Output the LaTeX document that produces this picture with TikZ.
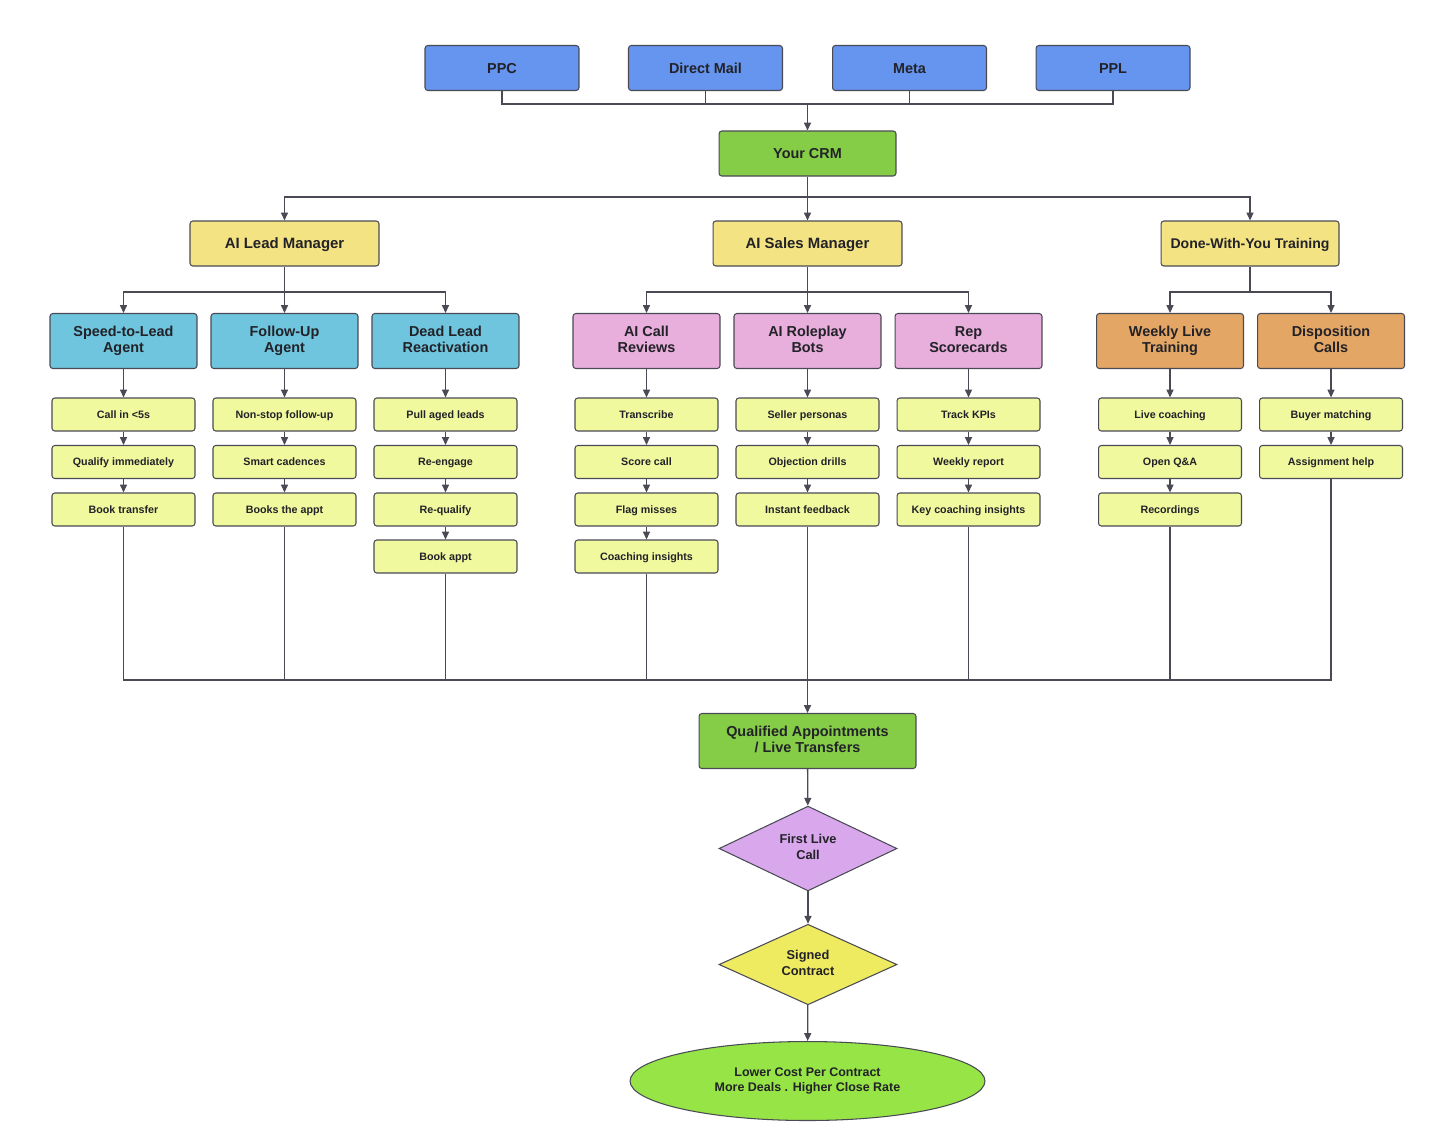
\documentclass[tikz,border=0pt]{standalone}
\usepackage{fontspec}
\setmainfont{Liberation Sans}
\usepackage{tikz}
\usetikzlibrary{
  arrows.meta,
  shapes.geometric,
  positioning
}
\definecolor{srcblue}{HTML}{6595EE}
\definecolor{crmgreen}{HTML}{85CD47}
\definecolor{mgryellow}{HTML}{F4E382}
\definecolor{agentcyan}{HTML}{6EC5DD}
\definecolor{salespink}{HTML}{E8AEDC}
\definecolor{trainorange}{HTML}{E4A665}
\definecolor{tasklight}{HTML}{F1F99E}
\definecolor{calllilac}{HTML}{D9A8EC}
\definecolor{signyellow}{HTML}{EEEB60}
\definecolor{goalgreen}{HTML}{96E446}
\definecolor{linegray}{HTML}{4A4A55}
\definecolor{inkdark}{HTML}{222228}
\newcommand{\capstrut}{\rule[-0.25em]{0pt}{1.216em}}
\tikzset{
  box/.style={
    draw=linegray, rectangle, rounded corners=1.6pt, line width=0.6pt,
    align=center, text=inkdark, inner sep=0pt,
    execute at begin node=\capstrut, execute at end node=\capstrut,
    font=\bfseries\fontsize{8.2}{9.2}\selectfont
  },
  source box/.style={
    box, fill=srcblue, minimum width=3.08cm, minimum height=0.9cm
  },
  crm box/.style={
    box, fill=crmgreen, minimum width=3.54cm, minimum height=0.9cm
  },
  manager box/.style={
    box, fill=mgryellow, minimum width=3.78cm, minimum height=0.9cm,
    font=\bfseries\fontsize{8.5}{9}\selectfont
  },
  agent box/.style={
    box, minimum width=2.94cm, minimum height=1.1cm
  },
  task box/.style={
    box, fill=tasklight, minimum width=2.86cm, minimum height=0.66cm,
    font=\bfseries\fontsize{6.1}{7}\selectfont
  },
  link/.style={
    draw=linegray, line width=0.75pt
  },
  arrow link/.style={
    link, -{Triangle[length=4.5pt,width=4pt]}
  },
}
\begin{document}
\begin{tikzpicture}[x=0.02cm, y=-0.02cm]
  \useasboundingbox (0,0) rectangle (1449,1134);

  % Lead sources
  \node[source box] (ppc) at (502,68) {PPC};
  \node[source box] (mail) at (705.5,68) {Direct Mail};
  \node[source box] (meta) at (909.5,68) {Meta};
  \node[source box] (ppl) at (1113,68) {PPL};

  % CRM
  \node[crm box] (crm) at (807.5,153.5) {Your CRM};

  % Managers
  \node[manager box] (lead) at (284.5,243.5) {AI Lead Manager};
  \node[manager box] (sales) at (807.5,243.5) {AI Sales Manager};
  \node[manager box, minimum width=3.56cm, font=\bfseries\fontsize{8}{9}\selectfont]
    (train) at (1250,243.5) {Done-With-You Training};

  % Agents
  \node[agent box, fill=agentcyan] (speed) at (123.5,341) {Speed-to-Lead\\Agent};
  \node[agent box, fill=agentcyan] (follow) at (284.5,341) {Follow-Up\\Agent};
  \node[agent box, fill=agentcyan] (dead) at (445.5,341) {Dead Lead\\Reactivation};
  \node[agent box, fill=salespink] (review) at (646.5,341) {AI Call\\Reviews};
  \node[agent box, fill=salespink] (roleplay) at (807.5,341) {AI Roleplay\\Bots};
  \node[agent box, fill=salespink] (score) at (968.5,341) {Rep\\Scorecards};
  \node[agent box, fill=trainorange] (weekly) at (1170,341) {Weekly Live\\Training};
  \node[agent box, fill=trainorange] (dispo) at (1331,341) {Disposition\\Calls};

  % Tasks
  \node[task box] (speed1) at (123.5,414.5) {Call in <5s};
  \node[task box] (speed2) at (123.5,462) {Qualify immediately};
  \node[task box] (speed3) at (123.5,509.5) {Book transfer};

  \node[task box] (follow1) at (284.5,414.5) {Non-stop follow-up};
  \node[task box] (follow2) at (284.5,462) {Smart cadences};
  \node[task box] (follow3) at (284.5,509.5) {Books the appt};

  \node[task box] (dead1) at (445.5,414.5) {Pull aged leads};
  \node[task box] (dead2) at (445.5,462) {Re-engage};
  \node[task box] (dead3) at (445.5,509.5) {Re-qualify};
  \node[task box] (dead4) at (445.5,556.5) {Book appt};

  \node[task box] (review1) at (646.5,414.5) {Transcribe};
  \node[task box] (review2) at (646.5,462) {Score call};
  \node[task box] (review3) at (646.5,509.5) {Flag misses};
  \node[task box] (review4) at (646.5,556.5) {Coaching insights};

  \node[task box] (roleplay1) at (807.5,414.5) {Seller personas};
  \node[task box] (roleplay2) at (807.5,462) {Objection drills};
  \node[task box] (roleplay3) at (807.5,509.5) {Instant feedback};

  \node[task box] (score1) at (968.5,414.5) {Track KPIs};
  \node[task box] (score2) at (968.5,462) {Weekly report};
  \node[task box] (score3) at (968.5,509.5) {Key coaching insights};

  \node[task box] (weekly1) at (1170,414.5) {Live coaching};
  \node[task box] (weekly2) at (1170,462) {Open Q\&A};
  \node[task box] (weekly3) at (1170,509.5) {Recordings};

  \node[task box] (dispo1) at (1331,414.5) {Buyer matching};
  \node[task box] (dispo2) at (1331,462) {Assignment help};

  % Outcome
  \node[box, fill=crmgreen, minimum width=4.34cm, minimum height=1.1cm]
    (qual) at (807.5,741) {Qualified Appointments\\/ Live Transfers};
  \node[box, diamond, fill=calllilac, rounded corners=0pt,
        minimum width=3.56cm, minimum height=1.56cm,
        font=\bfseries\fontsize{7.3}{8.7}\selectfont]
    (firstcall) at (808,848.5) {First Live\\Call};
  \node[box, diamond, fill=signyellow, rounded corners=0pt,
        minimum width=3.56cm, minimum height=1.56cm,
        font=\bfseries\fontsize{7.3}{8.7}\selectfont]
    (signed) at (808,964.5) {Signed\\Contract};
  \node[box, ellipse, fill=goalgreen, rounded corners=0pt,
        minimum width=7.1cm, minimum height=1.58cm,
        font=\bfseries\fontsize{7.1}{8.6}\selectfont]
    (goal) at (807.5,1081) {Lower Cost Per Contract\\More Deals . Higher Close Rate};

  % Bus points
  \coordinate (srcbus) at (807.5,104);
  \coordinate (mgrbus) at (807.5,197);
  \coordinate (leadbus) at (284.5,292);
  \coordinate (salesbus) at (807.5,292);
  \coordinate (trainbus) at (1250,292);
  \coordinate (outbus) at (807.5,680);

  % Sources into CRM
  \draw[link] (ppc.south) |- (srcbus);
  \draw[link] (mail.south) |- (srcbus);
  \draw[link] (meta.south) |- (srcbus);
  \draw[link] (ppl.south) |- (srcbus);
  \draw[arrow link] (srcbus) -- (crm.north);

  % CRM to managers
  \draw[link] (crm.south) -- (mgrbus);
  \draw[arrow link] (mgrbus) -| (lead.north);
  \draw[arrow link] (mgrbus) -- (sales.north);
  \draw[arrow link] (mgrbus) -| (train.north);

  % Managers to agents
  \draw[link] (lead.south) -- (leadbus);
  \draw[arrow link] (leadbus) -| (speed.north);
  \draw[arrow link] (leadbus) -- (follow.north);
  \draw[arrow link] (leadbus) -| (dead.north);
  \draw[link] (sales.south) -- (salesbus);
  \draw[arrow link] (salesbus) -| (review.north);
  \draw[arrow link] (salesbus) -- (roleplay.north);
  \draw[arrow link] (salesbus) -| (score.north);
  \draw[link] (train.south) -- (trainbus);
  \draw[arrow link] (trainbus) -| (weekly.north);
  \draw[arrow link] (trainbus) -| (dispo.north);

  % Task chains
  \draw[arrow link] (speed) -- (speed1);
  \draw[arrow link] (speed1) -- (speed2);
  \draw[arrow link] (speed2) -- (speed3);
  \draw[arrow link] (follow) -- (follow1);
  \draw[arrow link] (follow1) -- (follow2);
  \draw[arrow link] (follow2) -- (follow3);
  \draw[arrow link] (dead) -- (dead1);
  \draw[arrow link] (dead1) -- (dead2);
  \draw[arrow link] (dead2) -- (dead3);
  \draw[arrow link] (dead3) -- (dead4);
  \draw[arrow link] (review) -- (review1);
  \draw[arrow link] (review1) -- (review2);
  \draw[arrow link] (review2) -- (review3);
  \draw[arrow link] (review3) -- (review4);
  \draw[arrow link] (roleplay) -- (roleplay1);
  \draw[arrow link] (roleplay1) -- (roleplay2);
  \draw[arrow link] (roleplay2) -- (roleplay3);
  \draw[arrow link] (score) -- (score1);
  \draw[arrow link] (score1) -- (score2);
  \draw[arrow link] (score2) -- (score3);
  \draw[arrow link] (weekly) -- (weekly1);
  \draw[arrow link] (weekly1) -- (weekly2);
  \draw[arrow link] (weekly2) -- (weekly3);
  \draw[arrow link] (dispo) -- (dispo1);
  \draw[arrow link] (dispo1) -- (dispo2);

  % Tasks into outcome
  \draw[link] (speed3.south) |- (outbus);
  \draw[link] (follow3.south) |- (outbus);
  \draw[link] (dead4.south) |- (outbus);
  \draw[link] (review4.south) |- (outbus);
  \draw[link] (roleplay3.south) -- (outbus);
  \draw[link] (score3.south) |- (outbus);
  \draw[link] (weekly3.south) |- (outbus);
  \draw[link] (dispo2.south) |- (outbus);
  \draw[arrow link] (outbus) -- (qual.north);
  \draw[arrow link] (qual) -- (firstcall);
  \draw[arrow link] (firstcall) -- (signed);
  \draw[arrow link] (signed) -- (goal);

\end{tikzpicture}
\end{document}
